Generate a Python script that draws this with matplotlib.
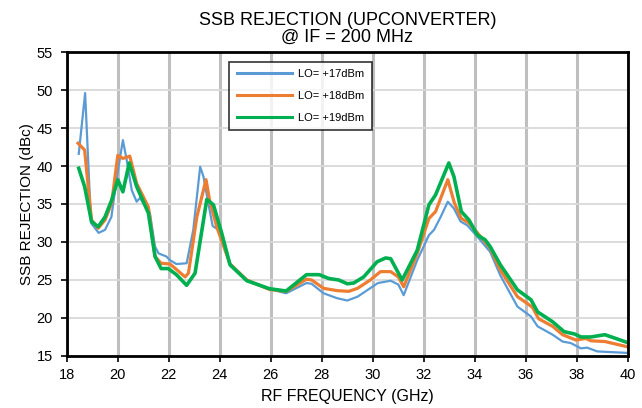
import matplotlib.pyplot as plt

plt.rcParams['font.family'] = ['Liberation Sans', 'DejaVu Sans']

# LO = +17 dBm
freq_17 = [18.47, 18.72, 18.95, 19.25, 19.5, 19.75, 19.95, 20.2, 20.35, 20.55, 20.74, 20.87,
           21.26, 21.46, 21.6, 21.9, 22.05, 22.3, 22.7, 22.96, 23.23, 23.36, 23.55, 23.72,
           23.95, 24.4, 25.06, 25.95, 26.6, 27.4, 27.6, 28.07, 28.6, 29.0, 29.4, 29.8, 30.2,
           30.7, 31.0, 31.21, 31.74, 32.2, 32.4, 32.66, 32.94, 33.18, 33.44, 33.7, 34.1,
           34.6, 35.0, 35.67, 36.2, 36.46, 37.05, 37.44, 37.76, 38.16, 38.4, 38.8, 40.0]
rej_17 = [41.6, 49.6, 32.5, 31.2, 31.6, 33.3, 38.2, 43.4, 40.8, 36.8, 35.3, 35.8,
          33.8, 29.4, 28.5, 28.1, 27.6, 27.1, 27.2, 31.6, 39.9, 38.6, 35.1, 32.1,
          31.6, 27.2, 25.0, 23.8, 23.25, 24.6, 24.5, 23.25, 22.6, 22.3, 22.8, 23.7, 24.6,
          24.9, 24.4, 23.0, 27.6, 30.9, 31.6, 33.3, 35.3, 34.4, 32.7, 32.2, 30.7,
          28.7, 25.6, 21.5, 20.2, 18.9, 17.8, 16.9, 16.7, 16.0, 16.1, 15.6, 15.4]

# LO = +18 dBm
freq_18 = [18.44, 18.7, 18.97, 19.23, 19.5, 19.76, 20.0, 20.2, 20.47, 20.74, 21.2, 21.46,
           21.7, 22.05, 22.64, 22.77, 23.1, 23.46, 23.6, 23.88, 24.4, 25.06, 25.95, 26.6,
           27.4, 27.6, 28.07, 28.6, 29.05, 29.4, 29.9, 30.3, 30.7, 31.0, 31.21, 31.74, 32.2,
           32.46, 32.94, 33.2, 33.47, 33.77, 34.1, 34.6, 35.0, 35.67, 36.06, 36.26, 36.5,
           37.05, 37.44, 37.96, 38.35, 38.55, 39.1, 40.0]
rej_18 = [43.0, 42.1, 32.9, 31.8, 32.9, 35.1, 41.4, 41.0, 41.3, 37.7, 34.6, 28.1,
          27.2, 27.1, 25.4, 25.9, 33.3, 38.2, 35.5, 32.0, 27.1, 25.0, 23.75, 23.5,
          25.1, 25.0, 23.9, 23.6, 23.5, 23.9, 25.0, 26.1, 26.1, 25.4, 24.1, 28.5, 33.1,
          34.0, 38.2, 35.1, 33.1, 32.5, 31.2, 29.2, 26.3, 22.8, 21.9, 21.4, 19.9,
          18.9, 17.8, 17.1, 17.3, 17.0, 16.9, 16.2]

# LO = +19 dBm
freq_19 = [18.47, 18.7, 18.97, 19.23, 19.5, 19.76, 20.0, 20.2, 20.45, 20.74, 21.2, 21.46,
           21.7, 21.98, 22.3, 22.7, 23.03, 23.49, 23.75, 24.08, 24.4, 25.06, 25.95, 26.6,
           27.4, 27.9, 28.27, 28.66, 29.0, 29.25, 29.64, 30.17, 30.5, 30.7, 31.15, 31.74,
           32.2, 32.46, 32.98, 33.18, 33.47, 33.77, 34.1, 34.4, 34.6, 35.0, 35.67, 36.2,
           36.46, 37.05, 37.5, 37.9, 38.16, 38.55, 39.1, 40.0]
rej_19 = [39.7, 37.3, 32.7, 32.0, 33.3, 35.5, 38.2, 36.6, 40.4, 37.3, 33.8, 28.1,
          26.5, 26.5, 25.7, 24.3, 25.9, 35.6, 34.9, 31.1, 27.0, 24.9, 23.85, 23.55,
          25.7, 25.7, 25.2, 25.0, 24.5, 24.6, 25.4, 27.4, 27.9, 27.8, 25.0, 28.9,
          34.9, 36.2, 40.4, 38.6, 34.0, 32.9, 30.9, 30.3, 29.4, 27.0, 23.7, 22.4,
          20.8, 19.5, 18.2, 17.9, 17.5, 17.5, 17.8, 16.75]

x_ticks = list(range(18, 41, 2))
y_ticks = list(range(15, 56, 5))

fig = plt.figure(figsize=(6.42, 4.08), dpi=100)
ax = fig.add_axes([0.104, 0.1275, 0.874, 0.745])

ax.plot(freq_17, rej_17, color='#5B9BD5', lw=1.6, label='LO= +17dBm', zorder=3)
ax.plot(freq_18, rej_18, color='#ED7D31', lw=2.3, label='LO= +18dBm', zorder=4)
ax.plot(freq_19, rej_19, color='#00B050', lw=2.6, label='LO= +19dBm', zorder=5)

ax.set_xlim(18, 40)
ax.set_ylim(15, 55)
ax.set_xticks(x_ticks)
ax.set_yticks(y_ticks)
ax.tick_params(labelsize=10.5, length=4, width=1.2, direction='out')
ax.tick_params(axis='x', pad=5)
ax.tick_params(axis='y', pad=6)

# vertical grid heavier than horizontal, as in the original
for x in x_ticks:
    ax.axvline(x, color='#BFBFBF', lw=2.2, zorder=1)
for y in y_ticks:
    ax.axhline(y, color='#D9D9D9', lw=1.3, zorder=1)

for s in ax.spines.values():
    s.set_linewidth(2)
    s.set_color('black')
    s.set_zorder(6)

ax.set_xlabel('RF FREQUENCY (GHz)', fontsize=11.5, labelpad=5)
ax.set_ylabel('SSB REJECTION (dBc)', fontsize=11, labelpad=2)
ax.set_title('SSB REJECTION (UPCONVERTER)\n@ IF = 200 MHz', fontsize=13, pad=7, linespacing=1.05)

leg = ax.legend(loc='upper left', bbox_to_anchor=(0.29, 0.967), fontsize=8,
                frameon=True, fancybox=False, handlelength=5.0, labelspacing=1.05,
                borderpad=0.65, handletextpad=0.55, borderaxespad=0)
leg.get_frame().set_edgecolor('black')
leg.get_frame().set_linewidth(1.2)
for line in leg.get_lines():
    line.set_linewidth(2.2)

fig.savefig('out.png', dpi=100)
